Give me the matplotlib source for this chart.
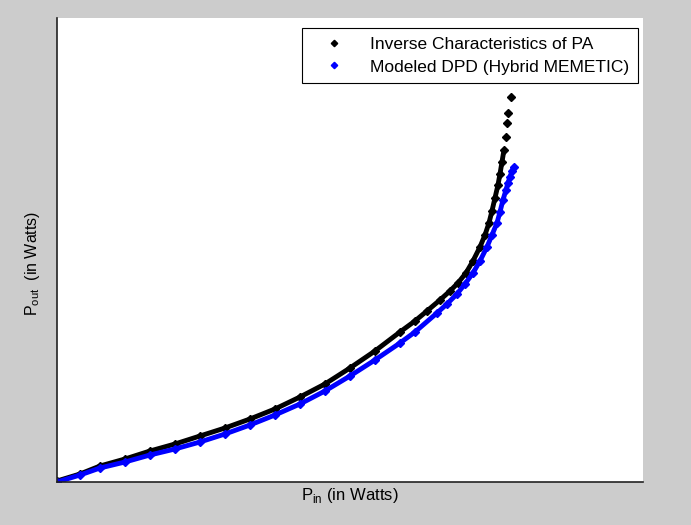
import matplotlib
matplotlib.use("Agg")
import matplotlib.pyplot as plt

plt.rcParams['font.family'] = ['Liberation Sans', 'DejaVu Sans']
plt.rcParams['mathtext.fontset'] = 'custom'
plt.rcParams['mathtext.rm'] = 'Liberation Sans'

# valores (unidades arbitrarias, el original no tiene marcas)
pin_pa = [0, 23, 43, 68, 93, 118, 143, 168, 193, 218,
          243, 268, 293, 318, 343, 358, 370, 383, 393, 401,
          409, 416, 423, 428, 432, 435, 438, 441, 443, 445,
          447, 449, 450, 451, 454]
pout_pa = [1, 8, 16, 23, 31, 38, 46, 54, 63, 73,
           85, 98, 114, 131, 150, 161, 171, 182, 191, 199,
           209, 221, 235, 247, 259, 271, 284, 297, 308, 320,
           332, 345, 359, 369, 385]

pin_dpd = [0, 23, 43, 68, 93, 118, 143, 168, 193, 218,
           243, 268, 293, 318, 343, 358, 380, 390, 400, 408,
           416, 423, 430, 435, 440, 443, 446, 449, 451, 453,
           455, 457]
pout_dpd = [0, 7, 14, 20, 27, 33, 40, 48, 57, 67,
            78, 91, 106, 122, 139, 150, 169, 178, 188, 198,
            209, 221, 235, 247, 259, 270, 282, 292, 299, 305,
            311, 315]

fig = plt.figure(figsize=(6.91, 5.25), dpi=100, facecolor='#cccccc')
ax = fig.add_axes([0.0825, 0.0819, 0.848, 0.884])
ax.set_facecolor('white')

# la parte densa se dibuja como linea gruesa, los puntos sueltos como rombos
ax.plot(pin_pa[:31], pout_pa[:31], '-', color='black', lw=3.5, solid_capstyle='round')
ax.plot(pin_pa, pout_pa, 'D', color='black', ms=3.6, ls='none',
        label='Inverse Characteristics of PA')
ax.plot(pin_dpd, pout_dpd, '-', color='#0000ff', lw=3.5, solid_capstyle='round')
ax.plot(pin_dpd, pout_dpd, 'D', color='#0000ff', ms=3.6, ls='none',
        label='Modeled DPD (Hybrid MEMETIC)')

ax.set_xlim(0, 586)
ax.set_ylim(0, 464)
ax.set_xticks([])
ax.set_yticks([])
for s in ['top', 'right']:
    ax.spines[s].set_visible(False)
for s in ['left', 'bottom']:
    ax.spines[s].set_color('#222222')
    ax.spines[s].set_linewidth(1.2)

ax.set_xlabel(r'P$_{\mathrm{in}}$ (in Watts)', fontsize=12, labelpad=3)
ax.set_ylabel(r'P$_{\mathrm{out}}$  (in Watts)', fontsize=11.5)
ax.yaxis.set_label_coords(-0.026, 0.472)

leg = ax.legend(loc='upper right', bbox_to_anchor=(0.9915, 0.978), fontsize=12.5,
                fancybox=False, framealpha=1, edgecolor='black',
                handlelength=2.6, markerscale=0.9, borderpad=0.5,
                labelspacing=0.43, handletextpad=0.8, borderaxespad=0)
leg.get_frame().set_linewidth(0.8)

fig.savefig('out.png', dpi=100, facecolor=fig.get_facecolor())
